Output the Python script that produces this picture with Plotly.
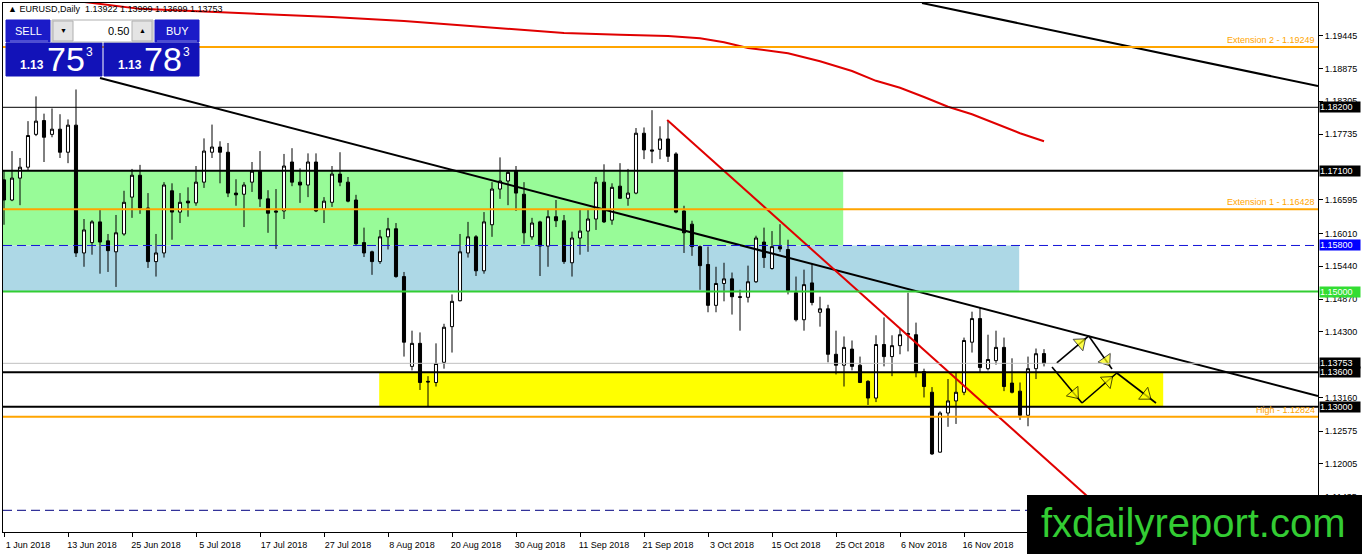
import plotly.graph_objects as go

# EURUSD daily bars, bar 0 = 1 Jun 2018 (one bar per trading day)
opens = [1.1694, 1.1659, 1.1697, 1.1716, 1.1773, 1.1797, 1.1773, 1.1782, 1.1742, 1.1789,
         1.1567, 1.1585, 1.1621, 1.1588, 1.1569, 1.1600, 1.1664, 1.1702, 1.1645, 1.1552,
         1.1567, 1.1675, 1.1638, 1.1657, 1.1654, 1.1690, 1.1742, 1.1751, 1.1742, 1.1671,
         1.1669, 1.1690, 1.1709, 1.1661, 1.1640, 1.1640, 1.1725, 1.1690, 1.1685, 1.1725,
         1.1643, 1.1655, 1.1704, 1.1690, 1.1659, 1.1585, 1.1569, 1.1552, 1.1595, 1.1609,
         1.1526, 1.1370, 1.1410, 1.1344, 1.1342, 1.1377, 1.1439, 1.1484, 1.1567, 1.1595,
         1.1536, 1.1616, 1.1678, 1.1692, 1.1709, 1.1669, 1.1595, 1.1621, 1.1579, 1.1630,
         1.1623, 1.1550, 1.1593, 1.1605, 1.1626, 1.1690, 1.1624, 1.1683, 1.1662, 1.1671,
         1.1775, 1.1746, 1.1747, 1.1765, 1.1739, 1.1640, 1.1617, 1.1578, 1.1547, 1.1476,
         1.1514, 1.1522, 1.1491, 1.1490, 1.1517, 1.1586, 1.1540, 1.1578, 1.1573, 1.1498,
         1.1451, 1.1515, 1.1464, 1.1470, 1.1391, 1.1372, 1.1400, 1.1372, 1.1344, 1.1315,
         1.1408, 1.1387, 1.1406, 1.1425, 1.1425, 1.1361, 1.1325, 1.1221, 1.1289, 1.1310,
         1.1325, 1.1412, 1.1453, 1.1366, 1.1380, 1.1403, 1.1341, 1.1327, 1.1285, 1.1366,
         1.13922]
highs = [1.1711, 1.1744, 1.1732, 1.1796, 1.1839, 1.1809, 1.1818, 1.1808, 1.1799, 1.1851,
         1.1626, 1.1624, 1.1642, 1.1600, 1.1633, 1.1675, 1.1713, 1.1720, 1.1671, 1.1600,
         1.1690, 1.1688, 1.1671, 1.1681, 1.1718, 1.1766, 1.1790, 1.1761, 1.1758, 1.1695,
         1.1690, 1.1725, 1.1744, 1.1676, 1.1678, 1.1739, 1.1749, 1.1714, 1.1740, 1.1740,
         1.1664, 1.1718, 1.1742, 1.1699, 1.1668, 1.1611, 1.1571, 1.1607, 1.1628, 1.1619,
         1.1534, 1.1432, 1.1429, 1.1353, 1.1410, 1.1444, 1.1495, 1.1600, 1.1621, 1.1598,
         1.1638, 1.1690, 1.1733, 1.1710, 1.1718, 1.1690, 1.1628, 1.1623, 1.1642, 1.1659,
         1.1633, 1.1604, 1.1642, 1.1642, 1.1699, 1.1721, 1.1688, 1.1723, 1.1713, 1.1784,
         1.1785, 1.1815, 1.1787, 1.1796, 1.1742, 1.1649, 1.1623, 1.1580, 1.1578, 1.1543,
         1.1550, 1.1533, 1.1503, 1.1545, 1.1597, 1.1611, 1.1605, 1.1617, 1.1590, 1.1526,
         1.1538, 1.1548, 1.1491, 1.1477, 1.1432, 1.1422, 1.1415, 1.1387, 1.1346, 1.1424,
         1.1455, 1.1424, 1.1436, 1.1498, 1.1446, 1.1366, 1.1334, 1.1292, 1.1348, 1.1359,
         1.1420, 1.1465, 1.1472, 1.1425, 1.1432, 1.1420, 1.1384, 1.1342, 1.1387, 1.1401,
         1.13999]
lows = [1.1616, 1.1657, 1.1650, 1.1711, 1.1770, 1.1725, 1.1768, 1.1732, 1.1723, 1.1560,
        1.1543, 1.1564, 1.1531, 1.1534, 1.1508, 1.1597, 1.1628, 1.1635, 1.1541, 1.1526,
        1.1559, 1.1590, 1.1619, 1.1630, 1.1649, 1.1680, 1.1732, 1.1688, 1.1664, 1.1649,
        1.1612, 1.1673, 1.1647, 1.1602, 1.1574, 1.1626, 1.1683, 1.1654, 1.1664, 1.1638,
        1.1619, 1.1647, 1.1683, 1.1655, 1.1579, 1.1560, 1.1529, 1.1548, 1.1573, 1.1524,
        1.1387, 1.1363, 1.1329, 1.1301, 1.1335, 1.1366, 1.1394, 1.1483, 1.1559, 1.1527,
        1.1531, 1.1595, 1.1661, 1.1650, 1.1640, 1.1583, 1.1590, 1.1527, 1.1543, 1.1612,
        1.1548, 1.1526, 1.1564, 1.1569, 1.1607, 1.1619, 1.1616, 1.1661, 1.1649, 1.1669,
        1.1730, 1.1723, 1.1730, 1.1725, 1.1636, 1.1567, 1.1562, 1.1503, 1.1464, 1.1464,
        1.1483, 1.1460, 1.1432, 1.1481, 1.1515, 1.1541, 1.1538, 1.1569, 1.1495, 1.1448,
        1.1432, 1.1476, 1.1439, 1.1377, 1.1356, 1.1335, 1.1363, 1.1341, 1.1303, 1.1308,
        1.1370, 1.1353, 1.1391, 1.1396, 1.1351, 1.1316, 1.1216, 1.1220, 1.1265, 1.1270,
        1.1320, 1.1394, 1.1359, 1.1363, 1.1373, 1.1327, 1.1323, 1.1277, 1.1266, 1.1348,
        1.13699]
closes = [1.1659, 1.1697, 1.1716, 1.1771, 1.1796, 1.1768, 1.1782, 1.1742, 1.1789, 1.1567,
          1.1607, 1.1621, 1.1586, 1.1571, 1.1602, 1.1655, 1.1702, 1.1645, 1.1552, 1.1567,
          1.1685, 1.1638, 1.1655, 1.1654, 1.1690, 1.1744, 1.1751, 1.1742, 1.1671, 1.1668,
          1.1685, 1.1709, 1.1661, 1.1636, 1.1638, 1.1718, 1.1690, 1.1685, 1.1725, 1.1640,
          1.1657, 1.1704, 1.1690, 1.1657, 1.1583, 1.1567, 1.1552, 1.1595, 1.1609, 1.1526,
          1.1412, 1.1410, 1.1342, 1.1343, 1.1375, 1.1438, 1.1483, 1.1569, 1.1595, 1.1536,
          1.1621, 1.1678, 1.1692, 1.1707, 1.1671, 1.1602, 1.1619, 1.1579, 1.1630, 1.1623,
          1.1552, 1.1593, 1.1605, 1.1626, 1.1690, 1.1621, 1.1681, 1.1662, 1.1671, 1.1775,
          1.1746, 1.1744, 1.1765, 1.1735, 1.1638, 1.1602, 1.1578, 1.1545, 1.1476, 1.1514,
          1.1522, 1.1491, 1.1490, 1.1517, 1.1593, 1.1559, 1.1578, 1.1574, 1.1502, 1.1451,
          1.1512, 1.1481, 1.1470, 1.1391, 1.1372, 1.1403, 1.1370, 1.1342, 1.1315, 1.1408,
          1.1387, 1.1406, 1.1425, 1.1427, 1.1361, 1.1335, 1.1218, 1.1289, 1.1310, 1.1325,
          1.1415, 1.1453, 1.1368, 1.1382, 1.1403, 1.1335, 1.1325, 1.1285, 1.1366, 1.1392,
          1.13753]

date_labels = ['1 Jun 2018', '13 Jun 2018', '25 Jun 2018', '5 Jul 2018', '17 Jul 2018',
               '27 Jul 2018', '8 Aug 2018', '20 Aug 2018', '30 Aug 2018', '11 Sep 2018',
               '21 Sep 2018', '3 Oct 2018', '15 Oct 2018', '25 Oct 2018', '6 Nov 2018',
               '16 Nov 2018']
price_ticks = [1.19445, 1.18875, 1.18305, 1.17735, 1.16595, 1.16010, 1.15440,
               1.14870, 1.14300, 1.13160, 1.12575, 1.12005, 1.11435]

# moving average (red curve), read at a few bars
ma_bars = [8, 10, 17, 29, 41, 50, 60, 70, 77, 83, 87, 90, 93, 98, 102, 106, 109,
           112, 115, 118, 121, 124, 127, 130]
ma_values = [1.2008, 1.2003, 1.1991, 1.1984, 1.1977, 1.1970, 1.1959, 1.1949, 1.1946,
             1.1944, 1.1940, 1.1933, 1.1923, 1.1914, 1.1900, 1.1883, 1.1866, 1.1854,
             1.1838, 1.1821, 1.1808, 1.1791, 1.1775, 1.1761]

# horizontal levels
level_values = [1.19249, 1.18200, 1.17100, 1.16428, 1.15800, 1.15000, 1.13753,
                1.13600, 1.13000, 1.12824, 1.11200]
level_styles = [('#FFA500', 2, 'solid'), ('black', 1, 'solid'), ('black', 2, 'solid'),
                ('#FFA500', 2, 'solid'), ('#1414D8', 1, '9px,5px'), ('#32CD32', 2, 'solid'),
                ('#C0C0C0', 1, 'solid'), ('black', 2, 'solid'), ('black', 2, 'solid'),
                ('#FFA500', 2, 'solid'), ('#000080', 1, '9px,5px')]

level_labels = {1.19249: 'Extension 2 - 1.19249', 1.16428: 'Extension 1 - 1.16428',
                1.12824: 'High - 1.12824'}

tag_values = [1.18200, 1.17100, 1.15800, 1.15000, 1.13753, 1.13600, 1.13000]
tag_colors = ['black', 'black', '#0000FF', '#33DD33', 'black', 'black', 'black']

# zones: (bar from, bar to, price low, price high)
zones = [(-5, 104.9, 1.1580, 1.1710), (-5, 126.9, 1.1500, 1.1580),
         (46.9, 144.9, 1.1300, 1.1360)]
zone_colors = ['#98FB98', '#ADD8E6', '#FFFF00']

# trend lines: (bar, price) -> (bar, price)
trend_lines = [((12, 1.18709), (164.25, 1.13185)),
               ((114.75, 1.20012), (164.25, 1.18570)),
               ((82.9, 1.17980), (140.4, 1.10823))]
trend_colors = ['black', 'black', '#E00000']

arrows = [((131.6, 1.13760), (135.6, 1.14228)),
          ((135.6, 1.14228), (138.5, 1.13654)),
          ((131.0, 1.13689), (134.75, 1.13064)),
          ((134.75, 1.13064), (139.1, 1.13585)),
          ((139.1, 1.13585), (144.0, 1.13064))]

FONT = 'Liberation Sans'
W, H = 1362, 554
L, T, R, B = 3, 3, 1318, 532


def px_x(x):
    return (x - L) / (R - L)


def px_y(y):
    return 1 - (y - T) / (B - T)


fig = go.Figure()

fig.add_trace(go.Candlestick(
    x=list(range(len(opens))), open=opens, high=highs, low=lows, close=closes,
    increasing=dict(line=dict(color='black', width=1), fillcolor='white'),
    decreasing=dict(line=dict(color='black', width=1), fillcolor='black'),
    whiskerwidth=0, showlegend=False, hoverinfo='skip'))

fig.add_trace(go.Scatter(x=ma_bars, y=ma_values, mode='lines',
                         line=dict(color='#E00000', width=2), hoverinfo='skip'))

for (p0, p1), color in zip(trend_lines, trend_colors):
    fig.add_trace(go.Scatter(x=[p0[0], p1[0]], y=[p0[1], p1[1]], mode='lines',
                             line=dict(color=color, width=2), hoverinfo='skip'))

for p0, p1 in arrows:
    fig.add_trace(go.Scatter(x=[p0[0], p1[0]], y=[p0[1], p1[1]], mode='lines',
                             line=dict(color='black', width=1.6), hoverinfo='skip'))
    hx = p0[0] + 0.74 * (p1[0] - p0[0])
    hy = p0[1] + 0.74 * (p1[1] - p0[1])
    fig.add_trace(go.Scatter(x=[p0[0], hx], y=[p0[1], hy], mode='markers',
                             marker=dict(symbol='triangle-up', size=[0, 13], angleref='previous',
                                         color='#FFFF00', line=dict(color='black', width=1)),
                             hoverinfo='skip'))

shapes = []
for (x0, x1, y0, y1), color in zip(zones, zone_colors):
    shapes.append(dict(type='rect', xref='x', yref='y', x0=x0, x1=x1, y0=y0, y1=y1,
                       fillcolor=color, line_width=0, layer='below'))

for lvl, (color, width, dash) in zip(level_values, level_styles):
    shapes.append(dict(type='line', xref='paper', yref='y', x0=0, x1=1, y0=lvl, y1=lvl,
                       line=dict(color=color, width=width, dash=dash), layer='above'))

# trade panel (pixel boxes)
panel = [(6, 20, 50, 42, '#1B1BC8'), (155, 20, 199, 42, '#1B1BC8'),
         (6, 43, 102, 76, '#1212B8'), (104, 43, 199, 76, '#1212B8'),
         (52, 20, 153, 42, '#FFFFFF'), (53, 21, 73, 41, '#E4E4E4'), (132, 21, 152, 41, '#E4E4E4')]
for x0, y0, x1, y1, color in panel:
    shapes.append(dict(type='rect', xref='paper', yref='paper', x0=px_x(x0), x1=px_x(x1),
                       y0=px_y(y1), y1=px_y(y0), fillcolor=color,
                       line=dict(color='#B0B0B0' if color in ('#FFFFFF', '#E4E4E4') else color, width=1),
                       layer='above'))
for x0, x1 in [(10, 48), (157, 197)]:
    shapes.append(dict(type='line', xref='paper', yref='paper', x0=px_x(x0), x1=px_x(x1),
                       y0=px_y(41), y1=px_y(41), line=dict(color='#8080E0', width=1), layer='above'))

# watermark box
shapes.append(dict(type='rect', xref='paper', yref='paper', x0=px_x(1027), x1=px_x(1362),
                   y0=px_y(554), y1=px_y(495), fillcolor='black', line_width=0, layer='above'))

annotations = []
for lvl, text in level_labels.items():
    annotations.append(dict(x=1, xref='paper', y=lvl, yref='y', text=text, showarrow=False,
                            xanchor='right', yanchor='bottom', xshift=-1, yshift=0,
                            font=dict(family=FONT, size=9, color='#FFA500')))

for lvl, color in zip(tag_values, tag_colors):
    annotations.append(dict(x=1, xref='paper', y=lvl, yref='y', text='%.5f' % lvl,
                            showarrow=False, xanchor='left', yanchor='middle', xshift=1,
                            bgcolor=color, borderpad=0, width=40, height=10, align='left',
                            font=dict(family=FONT, size=9, color='white')))

annotations.append(dict(x=px_x(6), y=px_y(9), xref='paper', yref='paper', showarrow=False,
                        xanchor='left', yanchor='middle',
                        text='\u25b2 EURUSD,Daily  1.13922 1.13999 1.13699 1.13753',
                        font=dict(family=FONT, size=9, color='black')))

panel_text = [('SELL', 28, 31, 11, 'white'), ('BUY', 177, 31, 11, 'white'),
              ('0.50', 118, 31, 11, 'black'), ('\u25bc', 63, 31, 7, 'black'),
              ('\u25b2', 142, 31, 7, 'black'),
              ('<b>1.13</b>', 32, 65, 12, 'white'), ('75', 66, 59, 34, 'white'),
              ('3', 89, 52, 12, 'white'),
              ('<b>1.13</b>', 130, 65, 12, 'white'), ('78', 163, 59, 34, 'white'),
              ('3', 186, 52, 12, 'white')]
for text, x, y, size, color in panel_text:
    annotations.append(dict(x=px_x(x), y=px_y(y), xref='paper', yref='paper', text=text,
                            showarrow=False, xanchor='center', yanchor='middle',
                            font=dict(family=FONT, size=size, color=color)))

annotations.append(dict(x=px_x(1193), y=px_y(523), xref='paper', yref='paper',
                        text='fxdailyreport.com', showarrow=False, xanchor='center',
                        yanchor='middle',
                        font=dict(family=FONT, size=40, color='#33CC33')))

fig.update_layout(
    width=W, height=H, margin=dict(l=L, r=W - R, t=T, b=H - B, autoexpand=False),
    paper_bgcolor='white', plot_bgcolor='white', showlegend=False,
    boxgap=0.45, shapes=shapes, annotations=annotations,
    font=dict(family=FONT, size=9, color='black'),
)
fig.update_xaxes(range=[-0.125, 164.25], tickvals=[8 * k for k in range(len(date_labels))],
                 ticktext=date_labels, ticks='outside', ticklen=4, tickcolor='black',
                 showline=True, linecolor='black', linewidth=1, mirror=True,
                 showgrid=False, zeroline=False, rangeslider_visible=False,
                 tickfont=dict(family=FONT, size=9, color='black'), ticklabelshift=24)
fig.update_yaxes(range=[1.10823, 1.20012], side='right', tickvals=price_ticks,
                 tickformat='.5f', ticks='outside', ticklen=4, tickcolor='black',
                 showline=True, linecolor='black', linewidth=1, mirror=True,
                 showgrid=False, zeroline=False,
                 tickfont=dict(family=FONT, size=9, color='black'))

fig.write_html('out.html', config={'displayModeBar': False},
               post_script="document.body.style.margin='0';document.body.style.padding='0';"
                           "document.body.style.overflow='hidden';")
